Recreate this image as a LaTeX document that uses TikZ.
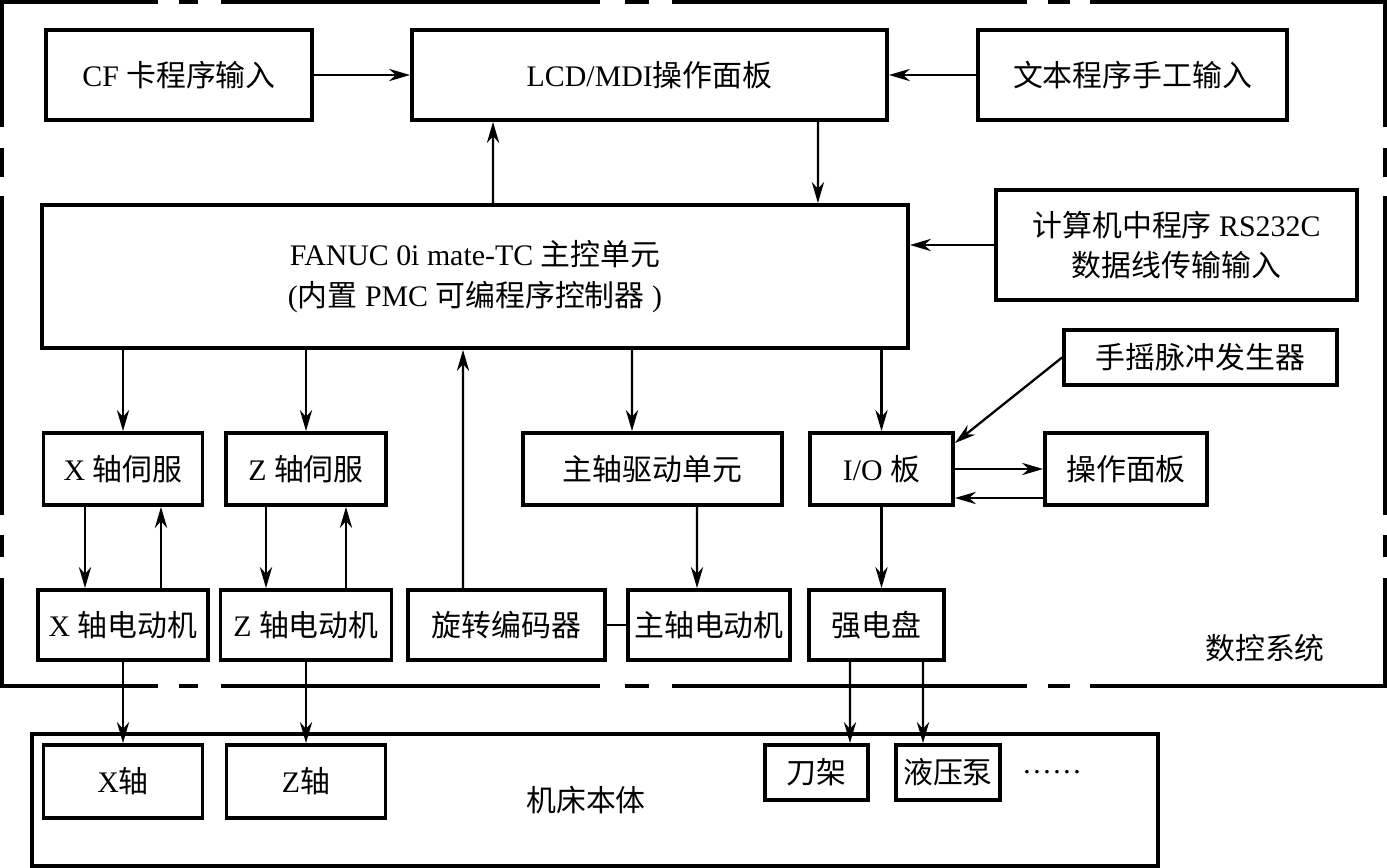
\documentclass[tikz,border=0pt]{standalone}
\usepackage{fontspec}
\setmainfont{Liberation Serif}
\newfontfamily\cjk{Noto Sans CJK SC}
\usetikzlibrary{arrows.meta}
\tikzset{
  blk/.style 2 args={draw,rectangle,line width=2.2pt,minimum width=#1*0.02cm,minimum height=#2*0.02cm,inner sep=0pt,align=center},
  signal/.style={-{Stealth[length=12pt,width=7pt]},line width=1.3pt},
  wire/.style={line width=1.3pt},
  frame/.style={line width=1.8pt,line cap=rect}
}

\begin{document}
\begin{tikzpicture}[x=0.02cm,y=-0.02cm,font=\fontsize{17}{23}\selectfont]
\useasboundingbox (0,0) rectangle (1387,868);

% dash-dot frame of the NC system
\foreach \a/\b in {2/156,181/196,223/598,627/647,674/1025,1050/1068,1092/1385} {
  \draw[frame] (\a,2) -- (\b,2);
  \draw[frame] (\a,686) -- (\b,686);
}
\foreach \a/\b in {2/125,150/175,198/513,537/555,580/686} {
  \draw[frame] (2,\a) -- (2,\b);
  \draw[frame] (1385,\a) -- (1385,\b);
}

\node[blk={266}{90}] (cf) at (179,75) {CF {\cjk 卡程序输入}};
\node[blk={475}{90}] (lcd) at (649.5,75) {LCD/MDI{\cjk 操作面板}};
\node[blk={309}{90}] (txt) at (1132.5,75) {{\cjk 文本程序手工输入}};
\node[blk={866}{143}] (fanuc) at (475,276.5) {FANUC 0i mate-TC {\cjk 主控单元}\\({\cjk 内置} PMC {\cjk 可编程序控制器} )};
\node[blk={361}{110}] (pc) at (1176.5,245) {{\cjk 计算机中程序} RS232C\\{\cjk 数据线传输输入}};
\node[blk={273}{55}] (mpg) at (1200.5,357.5) {{\cjk 手摇脉冲发生器}};

\node[blk={159}{72}] (xsv) at (123,469) {X {\cjk 轴伺服}};
\node[blk={160}{72}] (zsv) at (306,469) {Z {\cjk 轴伺服}};
\node[blk={259}{72}] (spd) at (652.5,469) {{\cjk 主轴驱动单元}};
\node[blk={143}{72}] (io) at (881.5,469) {I/O {\cjk 板}};
\node[blk={162}{72}] (op) at (1126,469) {{\cjk 操作面板}};

\node[blk={170}{70}] (xm) at (123,625) {X {\cjk 轴电动机}};
\node[blk={171}{70}] (zm) at (306,625) {Z {\cjk 轴电动机}};
\node[blk={197}{70}] (enc) at (506.5,625) {{\cjk 旋转编码器}};
\node[blk={162}{70}] (sm) at (709,625) {{\cjk 主轴电动机}};
\node[blk={135}{70}] (hv) at (876.5,625) {{\cjk 强电盘}};
\node (ncs) at (1265,648) {{\cjk 数控系统}};

% machine body
\node[blk={1126}{132}] (bed) at (595,800) {};
\node (bedtxt) at (586,800) {{\cjk 机床本体}};
\node[blk={159}{73}] (xa) at (123,781.5) {X{\cjk 轴}};
\node[blk={159}{73}] (za) at (306,781.5) {Z{\cjk 轴}};
\node[blk={103}{55}] (tool) at (816.5,772.5) {{\cjk 刀架}};
\node[blk={104}{55}] (pump) at (948,772.5) {{\cjk 液压泵}};
\node (more) at (1052,772) {……};

\draw[signal] (cf) -- (lcd);
\draw[signal] (txt) -- (lcd);
\draw[signal] ([xshift=3.37cm]lcd.south) -- ([xshift=6.86cm]fanuc.north);
\draw[signal] ([xshift=0.36cm]fanuc.north) -- ([xshift=-3.13cm]lcd.south);
\draw[signal] (pc.west) -- (pc.west -| fanuc.east);
\draw[signal] (mpg.west) -- ([yshift=-0.24cm]io.north east);

\draw[signal] (fanuc.south -| xsv.north) -- (xsv.north);
\draw[signal] (fanuc.south -| zsv.north) -- (zsv.north);
\draw[signal] ([xshift=3.14cm]fanuc.south) -- ([xshift=-0.41cm]spd.north);
\draw[signal] (fanuc.south -| io.north) -- (io.north);
\draw[signal] (io.east) -- (io.east -| op.west);
\draw[signal] ([yshift=-0.58cm]op.west) -- ([yshift=-0.58cm]io.east);

\draw[signal] ([xshift=-0.76cm]xsv.south) -- ([xshift=-0.76cm]xm.north);
\draw[signal] ([xshift=0.76cm]xm.north) -- ([xshift=0.76cm]xsv.south);
\draw[signal] ([xshift=-0.8cm]zsv.south) -- ([xshift=-0.8cm]zm.north);
\draw[signal] ([xshift=0.8cm]zm.north) -- ([xshift=0.8cm]zsv.south);
\draw[signal] ([xshift=0.89cm]spd.south) -- ([xshift=-0.24cm]sm.north);
\draw[signal] ([xshift=-0.87cm]enc.north) -- ([xshift=-0.24cm]fanuc.south);
\draw[wire] (enc) -- (sm);
\draw[signal] (io.south) -- (io.south |- hv.north);

\draw[signal] (xm.south) -- (xa.north);
\draw[signal] (zm.south) -- (za.north);
\draw[signal] ([xshift=-0.53cm]hv.south) -- ([xshift=0.67cm]tool.north);
\draw[signal] ([xshift=0.93cm]hv.south) -- ([xshift=-0.5cm]pump.north);

\end{tikzpicture}
\end{document}
